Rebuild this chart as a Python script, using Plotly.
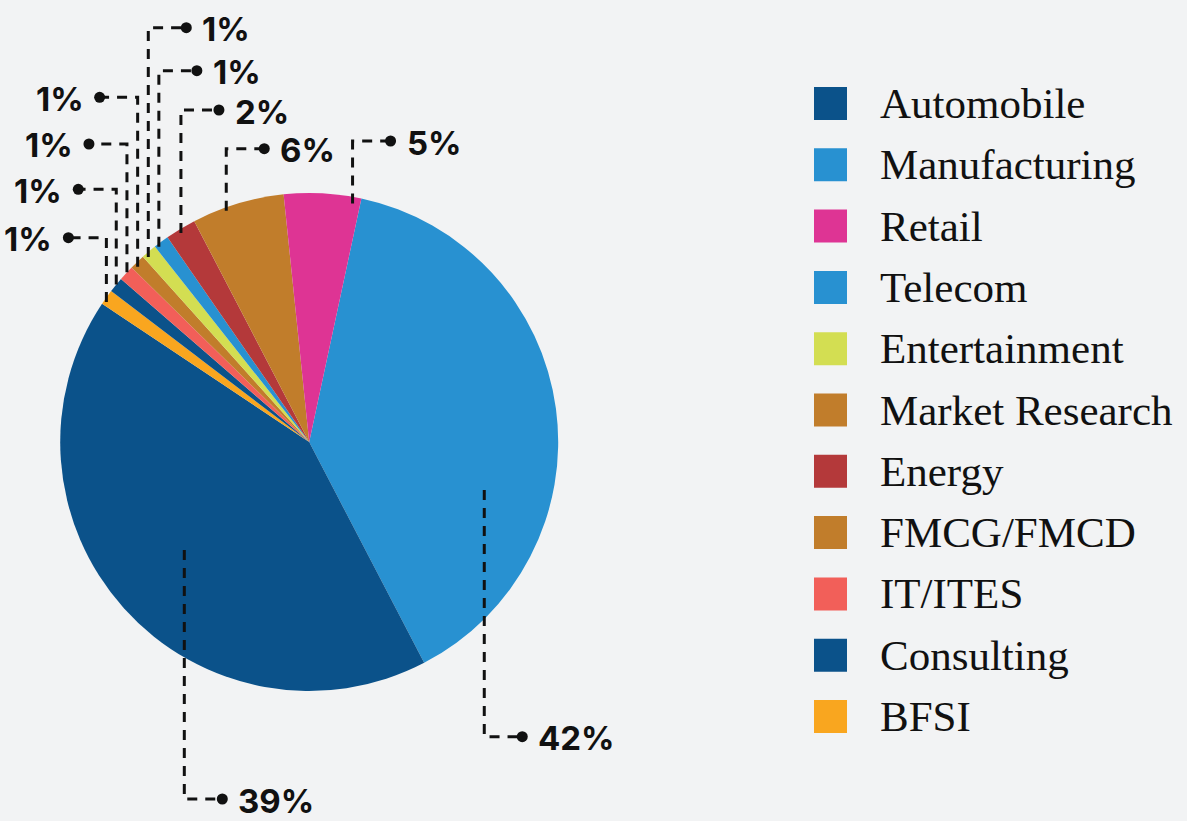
import math
import plotly.graph_objects as go

# slices in drawing order, clockwise from the top
slice_labels = ["Manufacturing", "Automobile", "BFSI", "Consulting", "IT/ITES",
                "FMCG/FMCD", "Entertainment", "Telecom", "Energy",
                "Market Research", "Retail"]
slice_values = [39, 42, 1, 1, 1, 1, 1, 1, 2, 6, 5]
# percentage printed at the end of each slice's leader line
slice_texts = ["42%", "39%", "1%", "1%", "1%", "1%", "1%", "1%", "2%", "6%", "5%"]

# legend order
legend_labels = ["Automobile", "Manufacturing", "Retail", "Telecom", "Entertainment",
                 "Market Research", "Energy", "FMCG/FMCD", "IT/ITES", "Consulting", "BFSI"]

palette = {
    "Automobile": "#0B528A",
    "Manufacturing": "#2891D1",
    "Retail": "#DE3494",
    "Telecom": "#2891D1",
    "Entertainment": "#D3DE52",
    "Market Research": "#C17D2B",
    "Energy": "#B4393A",
    "FMCG/FMCD": "#C17D2B",
    "IT/ITES": "#F25F59",
    "Consulting": "#0B528A",
    "BFSI": "#F9A61F",
}

W, H = 1187, 821
CX, CY, R = 309.2, 442.0, 249.0
ROTATION = 12.1
BG = "#f2f3f4"
INK = "#111111"

# leader layout per slice: where in the slice it starts (angle fraction,
# radius fraction), which side the dot goes, and the height of the elbow
leader_frac = [0.664, 0.507, 0.26, 0.53, 0.57, 0.31, 0.25, 0.2, 0.44, 0.36, 0.90]
leader_rf = [0.729, 0.663, 0.99, 1.0, 1.0, 0.985, 0.985, 0.99, 0.985, 0.987, 0.974]
leader_side = [1, 1, -1, -1, -1, -1, 1, 1, 1, 1, 1]
leader_y = [736.7, 799, 237.7, 189.3, 144, 97.3, 27.7, 70.7, 110, 148.7, 141]


def px(x):
    return x / W


def py(y):
    return 1 - y / H


fig = go.Figure()

fig.add_trace(
    go.Pie(
        labels=slice_labels,
        values=slice_values,
        marker=dict(colors=[palette[l] for l in slice_labels], line=dict(width=0)),
        sort=False,
        direction="clockwise",
        rotation=ROTATION,
        textinfo="none",
        hoverinfo="label+percent",
        showlegend=False,
        domain=dict(x=[px(CX - R), px(CX + R)], y=[py(CY + R), py(CY - R)]),
    )
)

shapes = []
annotations = []

# leader lines, dots and percentage labels
total = sum(slice_values)
start = ROTATION
for i, v in enumerate(slice_values):
    span = 360 * v / total
    ang = math.radians(start + leader_frac[i] * span)
    start += span
    ax = CX + R * leader_rf[i] * math.sin(ang)
    ay = CY - R * leader_rf[i] * math.cos(ang)
    ey = leader_y[i]
    dx = ax + leader_side[i] * 38
    shapes.append(dict(
        type="path", xref="paper", yref="paper",
        path=f"M{px(ax)},{py(ay)} L{px(ax)},{py(ey)} L{px(dx)},{py(ey)}",
        line=dict(color=INK, width=3, dash="10px,8px"),
    ))
    shapes.append(dict(
        type="circle", xref="paper", yref="paper",
        x0=px(dx - 5.5), x1=px(dx + 5.5), y0=py(ey + 5.5), y1=py(ey - 5.5),
        fillcolor=INK, line=dict(width=0),
    ))
    annotations.append(dict(
        x=px(dx + leader_side[i] * 14), y=py(ey + 1.5), xref="paper", yref="paper",
        text=slice_texts[i], showarrow=False,
        xanchor="left" if leader_side[i] > 0 else "right", yanchor="middle",
        font=dict(family="Inter", size=33, color=INK, weight=700),
    ))

# legend drawn by hand so the swatches are as large as in the source
for i, name in enumerate(legend_labels):
    yc = 103.5 + i * 61.3
    shapes.append(dict(
        type="rect", xref="paper", yref="paper",
        x0=px(814), x1=px(847), y0=py(yc + 16.5), y1=py(yc - 16.5),
        fillcolor=palette[name], line=dict(width=0),
    ))
    annotations.append(dict(
        x=px(877.5), y=py(yc), xref="paper", yref="paper",
        text=name, showarrow=False, xanchor="left", yanchor="middle",
        font=dict(family="Liberation Serif", size=43, color=INK),
    ))

fig.update_layout(
    width=W,
    height=H,
    margin=dict(l=0, r=0, t=0, b=0),
    paper_bgcolor=BG,
    plot_bgcolor=BG,
    shapes=shapes,
    annotations=annotations,
)

# drop the browser's default page margin so the figure sits at the corner
fig.write_html(
    "out.html",
    config={"displayModeBar": False},
    post_script="document.body.style.margin='0';",
)
